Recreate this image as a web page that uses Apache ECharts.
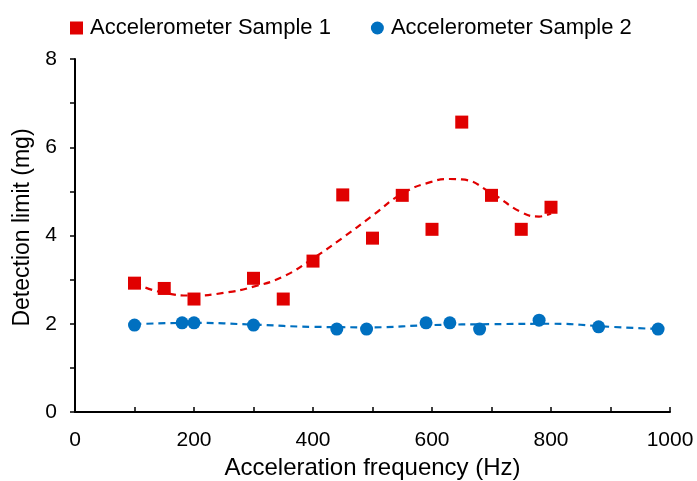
<!DOCTYPE html>
<html>
<head>
<meta charset="utf-8">
<script src="https://cdn.jsdelivr.net/npm/echarts@6/dist/echarts.min.js"></script>
<style>
  html, body { margin: 0; padding: 0; background: #fff; }
  #main { width: 697px; height: 481px; }
</style>
</head>
<body>
<div id="main"></div>
<script>
// sample 1 (red squares)
var freq1 = [100, 150, 200, 300, 350, 400, 450, 500, 550, 600, 650, 700, 750, 800];
var limit1 = [2.92, 2.80, 2.56, 3.03, 2.56, 3.42, 4.92, 3.94, 4.91, 4.14, 6.57, 4.91, 4.14, 4.64];
// sample 2 (blue circles)
var freq2 = [100, 180, 200, 300, 440, 490, 590, 630, 680, 780, 880, 980];
var limit2 = [1.97, 2.02, 2.02, 1.97, 1.88, 1.88, 2.02, 2.02, 1.88, 2.08, 1.93, 1.88];
// dashed trend lines
var trendX1 = [100, 150, 200, 250, 300, 350, 400, 450, 500, 550, 600, 630, 650, 700, 750, 780, 800];
var trendY1 = [2.92, 2.70, 2.64, 2.70, 2.84, 3.07, 3.48, 3.95, 4.45, 4.95, 5.22, 5.28, 5.27, 4.96, 4.53, 4.43, 4.50];
var trendX2 = [100, 200, 300, 400, 500, 600, 700, 800, 900, 980];
var trendY2 = [1.99, 2.02, 1.98, 1.93, 1.92, 1.97, 1.99, 2.00, 1.93, 1.88];

var xTicks = [0, 200, 400, 600, 800, 1000];
var yTicks = [0, 2, 4, 6, 8];

function pairs(xs, ys) {
    return xs.map(function (x, i) { return [x, ys[i]]; });
}

var red = '#E00000';
var blue = '#0070C0';
var font = 'Liberation Sans, Arial, sans-serif';

var myChart = echarts.init(document.getElementById('main'));
myChart.setOption({
    animation: false,
    textStyle: { fontFamily: font },
    grid: { left: 75, right: 27, top: 59, bottom: 69, outerBoundsMode: 'none', containLabel: false },
    legend: {
        data: ['Accelerometer Sample 1', 'Accelerometer Sample 2'],
        left: 65,
        top: 12,
        itemWidth: 13,
        itemHeight: 13,
        itemGap: 40,
        textStyle: { fontSize: 22, color: '#000', fontFamily: font, padding: [0, 0, 0, 2] }
    },
    xAxis: {
        type: 'value',
        min: 0,
        max: 1000,
        interval: 100,
        name: 'Acceleration frequency (Hz)',
        nameLocation: 'middle',
        nameGap: 44,
        nameTextStyle: { fontSize: 24, color: '#000', fontFamily: font },
        splitLine: { show: false },
        axisLine: { lineStyle: { color: '#000', width: 2 } },
        axisTick: { inside: true, length: 5, lineStyle: { color: '#000', width: 1.5 } },
        axisLabel: {
            fontSize: 21, color: '#000', margin: 18,
            formatter: function (v) { return xTicks.indexOf(v) >= 0 ? String(v) : ''; }
        }
    },
    yAxis: {
        type: 'value',
        min: 0,
        max: 8,
        interval: 1,
        name: 'Detection limit (mg)',
        nameLocation: 'middle',
        nameGap: 34,
        nameTextStyle: { fontSize: 23, color: '#000', fontFamily: font, padding: [0, 0, 0, 16] },
        splitLine: { show: false },
        axisLine: { show: true, lineStyle: { color: '#000', width: 2 } },
        axisTick: { show: true, length: 5, lineStyle: { color: '#000', width: 1.5 } },
        axisLabel: {
            fontSize: 21, color: '#000', margin: 18,
            formatter: function (v) { return yTicks.indexOf(v) >= 0 ? String(v) : ''; }
        }
    },
    series: [
        {
            name: 'trend1',
            type: 'line',
            data: pairs(trendX1, trendY1),
            smooth: 0.5,
            showSymbol: false,
            lineStyle: { color: red, width: 2.2, type: [7, 5] },
            z: 1
        },
        {
            name: 'trend2',
            type: 'line',
            data: pairs(trendX2, trendY2),
            smooth: 0.5,
            showSymbol: false,
            lineStyle: { color: blue, width: 2.2, type: [7, 5] },
            z: 1
        },
        {
            name: 'Accelerometer Sample 1',
            type: 'scatter',
            symbol: 'rect',
            symbolSize: 13,
            data: pairs(freq1, limit1),
            itemStyle: { color: red, opacity: 1 },
            z: 3
        },
        {
            name: 'Accelerometer Sample 2',
            type: 'scatter',
            symbol: 'circle',
            symbolSize: 13,
            data: pairs(freq2, limit2),
            itemStyle: { color: blue, opacity: 1 },
            z: 3
        }
    ]
});
</script>
</body>
</html>
